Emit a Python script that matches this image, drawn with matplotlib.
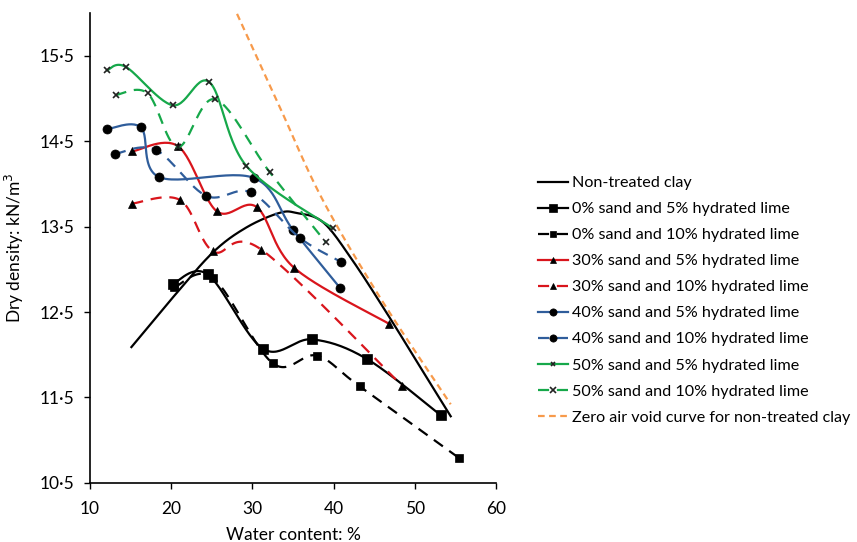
import matplotlib
matplotlib.use("Agg")
import matplotlib.pyplot as plt
import numpy as np

# water content (%) / dry density (kN/m3)
CLAY_W = [15.1, 20.1, 25.15, 29.25, 33.3, 35.4, 38.7, 42.35, 46.85, 51.4, 54.4]
CLAY_D = [12.09, 12.66, 13.20, 13.49, 13.66, 13.66, 13.55, 13.10, 12.44, 11.74, 11.28]

S0L5_W = [20.2, 24.5, 31.3, 37.3, 44.1, 53.2]
S0L5_D = [12.83, 12.94, 12.07, 12.18, 11.95, 11.29]
S0L10_W = [20.4, 25.15, 32.5, 37.9, 43.2, 55.45]
S0L10_D = [12.79, 12.90, 11.90, 11.99, 11.63, 10.79]

S30L5_W = [15.2, 20.85, 25.6, 30.5, 35.1, 46.85]
S30L5_D = [14.38, 14.44, 13.68, 13.73, 13.02, 12.36]
S30L10_W = [15.2, 21.1, 25.15, 31.1, 48.4]
S30L10_D = [13.77, 13.81, 13.21, 13.23, 11.64]

S40L5_W = [12.05, 16.27, 18.5, 30.15, 35.0, 40.8]
S40L5_D = [14.64, 14.66, 14.08, 14.07, 13.46, 12.78]
S40L10_W = [13.07, 18.07, 24.3, 29.8, 35.8, 40.84]
S40L10_D = [14.35, 14.40, 13.86, 13.90, 13.37, 13.09]

S50L5_W = [12.1, 14.4, 20.2, 24.7, 29.25, 39.9]
S50L5_D = [15.33, 15.37, 14.92, 15.19, 14.21, 13.48]
S50L10_W = [13.15, 17.1, 20.8, 25.4, 32.1, 39.0]
S50L10_D = [15.04, 15.06, 14.43, 14.99, 14.14, 13.32]

ZAV_W = [28.1, 33.35, 38.66, 45.9, 54.4]
ZAV_D = [15.99, 14.90, 13.81, 12.64, 11.42]

XTICKS = [10, 20, 30, 40, 50, 60]
YTICKS = [10.5, 11.5, 12.5, 13.5, 14.5, 15.5]
YTICK_LABELS = ["10·5", "11·5", "12·5", "13·5", "14·5", "15·5"]

GREEN = "#16A84A"
RED = "#D9151C"
BLUE = "#2F5D9B"
ORANGE = "#F79A4B"
NSEG = 30


def smooth(xs, ys, n=NSEG):
    """Excel-like smoothed line (Catmull-Rom as cubic Bezier segments)."""
    p = np.column_stack([xs, ys]).astype(float)
    t = np.linspace(0, 1, n)[:, None]
    out = []
    for i in range(len(p) - 1):
        p0 = p[i - 1] if i > 0 else p[i]
        p1, p2 = p[i], p[i + 1]
        p3 = p[i + 2] if i + 2 < len(p) else p[i + 1]
        c1 = p1 + (p2 - p0) / 6
        c2 = p2 - (p3 - p1) / 6
        seg = (1 - t) ** 3 * p1 + 3 * (1 - t) ** 2 * t * c1 + 3 * (1 - t) * t ** 2 * c2 + t ** 3 * p2
        out.append(seg if i == 0 else seg[1:])
    s = np.vstack(out)
    return s[:, 0], s[:, 1]


plt.rcParams["font.family"] = ["Lato", "DejaVu Sans"]
plt.rcParams["font.size"] = 12.5

fig = plt.figure(figsize=(8.57, 5.42), dpi=100)
ax = fig.add_axes([0.105, 0.109, 0.474, 0.867])

series = [
    ("Non-treated clay", CLAY_W, CLAY_D, "black", "-", None, 0),
    ("0% sand and 5% hydrated lime", S0L5_W, S0L5_D, "black", "-", "s", 6.5),
    ("0% sand and 10% hydrated lime", S0L10_W, S0L10_D, "black", "--", "s", 5.5),
    ("30% sand and 5% hydrated lime", S30L5_W, S30L5_D, RED, "-", "^", 6),
    ("30% sand and 10% hydrated lime", S30L10_W, S30L10_D, RED, "--", "^", 6),
    ("40% sand and 5% hydrated lime", S40L5_W, S40L5_D, BLUE, "-", "o", 6.5),
    ("40% sand and 10% hydrated lime", S40L10_W, S40L10_D, BLUE, "--", "o", 6.5),
    ("50% sand and 5% hydrated lime", S50L5_W, S50L5_D, GREEN, "-", "x", 4),
    ("50% sand and 10% hydrated lime", S50L10_W, S50L10_D, GREEN, "--", "x", 5),
]

for label, w, d, col, ls, mk, ms in series:
    sx, sy = smooth(w, d)
    kw = {}
    if mk:
        kw = dict(marker=mk, markersize=ms, markevery=[i * (NSEG - 1) for i in range(len(w))],
                  markerfacecolor="#222222" if mk == "x" else "black",
                  markeredgecolor="#222222" if mk == "x" else "black",
                  markeredgewidth=1.2 if mk == "x" else 0.5)
    line, = ax.plot(sx, sy, color=col, lw=1.6, label=label, **kw)
    if ls == "--":
        line.set_dashes([5, 3.5])

zx, zy = smooth(ZAV_W, ZAV_D)
zl, = ax.plot(zx, zy, color=ORANGE, lw=1.6, label="Zero air void curve for non-treated clay")
zl.set_dashes([3, 2])

ax.set_xlim(10, 60)
ax.set_ylim(10.5, 16.0)
ax.set_xticks(XTICKS)
ax.set_yticks(YTICKS)
ax.set_yticklabels(YTICK_LABELS)
ax.tick_params(direction="out", length=4, width=1, labelsize=12.5, colors="black")
ax.tick_params(axis="x", pad=9)
ax.tick_params(axis="y", pad=7)
for sp in ("top", "right"):
    ax.spines[sp].set_visible(False)
for sp in ("left", "bottom"):
    ax.spines[sp].set_linewidth(1.2)

ax.set_xlabel("Water content: %", fontsize=12.5, labelpad=7)
ax.set_ylabel("Dry density: kN/m$^3$", fontsize=12.5, labelpad=10)

fig.legend(loc="center left", bbox_to_anchor=(0.611, 0.446), frameon=False,
           fontsize=11.6, handlelength=1.86, handletextpad=0.25, labelspacing=0.73,
           markerscale=0.8)

fig.savefig("out.png", dpi=100)
